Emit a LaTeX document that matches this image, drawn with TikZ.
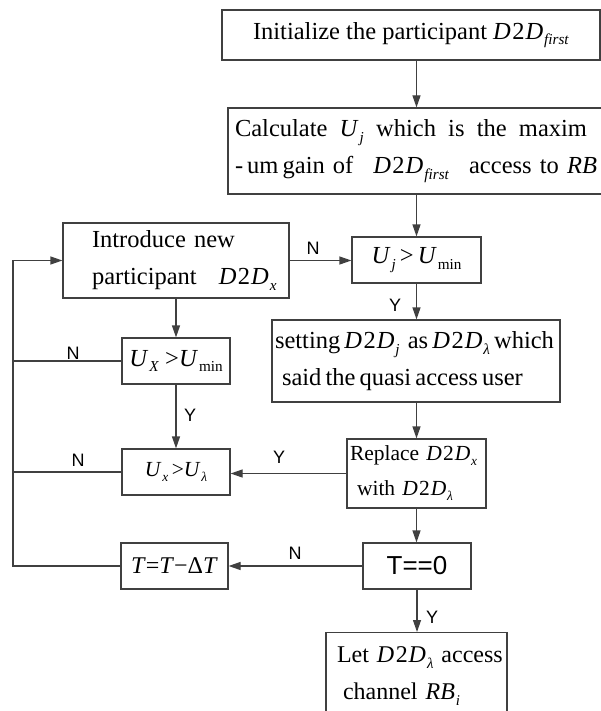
\documentclass[tikz,border=0pt]{standalone}
\usepackage{fontspec}
\setmainfont{Liberation Serif}
\newfontfamily\arialf{Liberation Sans}
\usetikzlibrary{arrows.meta}
\definecolor{linec}{HTML}{404040}
\newcommand\DD{\textit{D}\/\kern0.06em 2\kern0.04em\textit{D}\/}
\newcommand\lo[1]{\kern0.04em\raisebox{-0.5ex}{\scalebox{0.62}{#1}}}
\newcommand\gap{\hspace{0pt plus 1fil}}
\begin{document}
\begin{tikzpicture}[x=1pt,y=-1pt,
  box/.style={draw=linec, line width=1.2pt, fill=white, inner sep=0pt},
  tA/.style={font=\fontsize{24.5}{37}\selectfont},
  tB/.style={font=\fontsize{21.5}{35}\selectfont},
  tC/.style={font=\fontsize{24}{37}\selectfont},
  lab/.style={font=\arialf\fontsize{18}{18}\selectfont, inner sep=0pt},
  ln/.style={draw=linec, line width=1.2pt},
  arr/.style={ln, -{Triangle[length=12pt,width=8pt]}}]
\useasboundingbox (0,0) rectangle (601,711);

% boxes
\node[box, tA, minimum width=378pt, minimum height=50pt] (init) at (411,35)
  {Initialize the participant \DD\lo{\textit{first}}};
\node[box, tA, align=left, text width=378pt, inner xsep=7pt, minimum height=86pt] (calc) at (424,151)
  {\hbox to 352pt{Calculate\gap\textit{U}\lo{\textit{j}}\gap which\gap is\gap the\gap maxim}\\
   \hbox to 362pt{-\,um\,gain of\gap\DD\lo{\textit{first}}\gap access to \textit{RB}}};
\node[box, tA, minimum width=129pt, minimum height=46pt] (uj) at (416.5,260)
  {\textit{U}\lo{\textit{j}}\,>\,\textit{U}\lo{min}};
\node[box, tA, align=left, text width=226pt, minimum height=75pt] (intro) at (176,260.5)
  {\hspace*{29pt}Introduce new\\\hspace*{29pt}participant\hspace{0.9em}\DD\lo{\textit{x}}};
\node[box, tA, minimum width=108pt, minimum height=46pt] (ux) at (176,361)
  {\textit{U}\lo{\textit{X}} >\textit{U}\lo{min}};
\node[box, tB, minimum width=108pt, minimum height=46pt] (uxl) at (176,472)
  {\textit{U}\lo{\textit{x}}\,>\textit{U}\lo{\textit{λ}}};
\node[box, tA, align=left, text width=282pt, inner xsep=3pt, minimum height=82pt] (setting) at (416,361)
  {setting\,\DD\lo{\textit{j}} as\,\DD\lo{\textit{λ}}\,which\\\hspace*{7pt}said\,the\,quasi\,access\,user};
\node[box, tB, align=left, text width=133pt, inner xsep=3pt, minimum height=69pt] (replace) at (416.5,473.5)
  {Replace \DD\lo{\textit{x}}\\\hspace*{7pt}with \DD\lo{\textit{λ}}};
\node[box, minimum width=108pt, minimum height=46pt, font=\arialf\fontsize{26}{30}\selectfont] (t0) at (417,566)
  {T==0};
\node[box, tC, minimum width=107pt, minimum height=46pt] (tdec) at (174.5,566)
  {\textit{T}=\textit{T}−Δ\textit{T}};
\node[box, tC, anchor=north, align=left, text width=181pt, inner xsep=0pt, inner ysep=14pt] (let) at (416.5,632)
  {\hspace*{11pt}\mbox{Let \DD\lo{\textit{λ}} access}\\\hspace*{17pt}\mbox{channel \textit{RB}\lo{\textit{i}}}};

% left return line
\coordinate (Lx) at (13,0);

% connectors
\draw[arr] (init.south -| uj) -- (calc.north -| uj);
\draw[arr] (calc.south -| uj) -- (uj.north);
\draw[arr] (uj.south) -- (setting.north -| uj);
\draw[arr] (setting.south -| replace) -- (replace.north);
\draw[arr] (replace.south) -- (replace.south |- t0.north);
\draw[arr] (t0.south) -- (t0.south |- let.north);
\draw[arr] (intro.east) -- (intro.east -| uj.west);
\draw[arr] (intro.south) -- (intro.south |- ux.north);
\draw[arr] (ux.south) -- (uxl.north);
\draw[arr] (replace.west) -- (replace.west -| uxl.east);
\draw[arr] (t0.west) -- (t0.west -| tdec.east);
\draw[ln] (ux.west) -- (ux.west -| Lx);
\draw[ln] (uxl.west) -- (uxl.west -| Lx);
\draw[arr] (tdec.west) -- (tdec.west -| Lx) -- (Lx |- intro.west) -- (intro.west);

% labels
\node[lab] (n1) at (313,248) {N};
\node[lab] (y1) at (395,305) {Y};
\node[lab] (n2) at (73,353) {N};
\node[lab] (y2) at (190,415) {Y};
\node[lab] (n3) at (78,460) {N};
\node[lab] (y3) at (279,457) {Y};
\node[lab] (n4) at (295,553) {N};
\node[lab] (y4) at (432,617) {Y};
\end{tikzpicture}
\end{document}
